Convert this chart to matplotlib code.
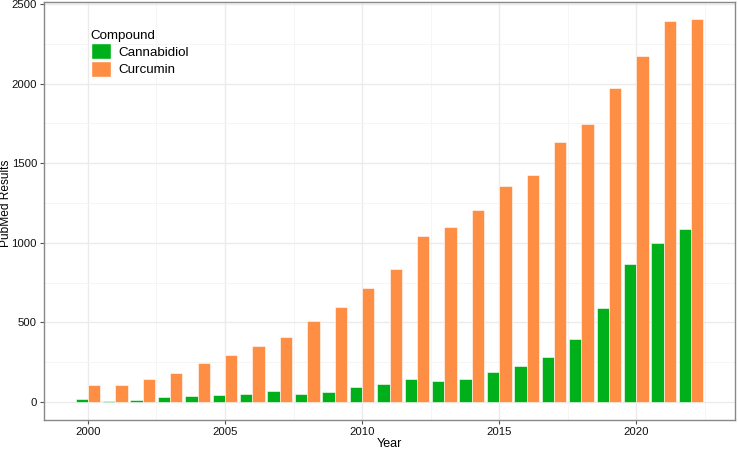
import matplotlib
matplotlib.use("Agg")
import matplotlib.pyplot as plt
import numpy as np
from matplotlib.patches import Patch
from matplotlib.ticker import MultipleLocator

plt.rcParams['font.family'] = ['Liberation Sans', 'DejaVu Sans']

years = list(range(2000, 2023))
cannabidiol = [19, 8, 13, 31, 40, 44, 50, 71, 50, 63, 92, 113, 144, 134, 144,
               186, 224, 281, 396, 588, 869, 1001, 1085]
curcumin = [107, 107, 144, 180, 247, 295, 354, 410, 509, 595, 713, 836, 1045,
            1099, 1204, 1359, 1425, 1635, 1745, 1970, 2170, 2395, 2405]
compounds = ["Cannabidiol", "Curcumin"]
colors = {"Cannabidiol": "#00B01A", "Curcumin": "#FF8E45"}

fig = plt.figure(figsize=(7.38, 4.49), dpi=100)
ax = fig.add_axes([44 / 738, 1 - 420 / 449, (735 - 44) / 738, (420 - 2) / 449])

x = np.array(years)
w = 0.45
ax.bar(x - w / 2, cannabidiol, width=w, color=colors["Cannabidiol"],
       edgecolor="white", linewidth=0.4, zorder=3)
ax.bar(x + w / 2, curcumin, width=w, color=colors["Curcumin"],
       edgecolor="white", linewidth=0.4, zorder=3)

ax.set_xlim(1998.4, 2023.6)
ax.set_ylim(-113, 2512)
ax.xaxis.set_major_locator(MultipleLocator(5))
ax.xaxis.set_minor_locator(MultipleLocator(2.5))
ax.yaxis.set_major_locator(MultipleLocator(500))
ax.yaxis.set_minor_locator(MultipleLocator(250))

ax.grid(which="major", color="#EBEBEB", linewidth=1.0, zorder=0)
ax.grid(which="minor", color="#F4F4F4", linewidth=0.6, zorder=0)
ax.set_axisbelow(True)
for s in ax.spines.values():
    s.set_color("#888888")
    s.set_linewidth(1.0)
ax.tick_params(which="major", length=3, color="#555555", labelsize=8.2,
               labelcolor="#111111", pad=2)
ax.tick_params(which="minor", length=0)

ax.set_xlabel("Year", fontsize=9)
ax.xaxis.set_label_coords(0.5, -0.043)
ax.set_ylabel("PubMed Results", fontsize=8.6)
ax.yaxis.set_label_coords(-0.046, 0.518)

handles = [Patch(facecolor=colors[c], edgecolor="white", label=c) for c in compounds]
leg = ax.legend(handles=handles, title="Compound", loc="upper left",
                bbox_to_anchor=(0.05, 0.962), frameon=False, fontsize=9.6,
                title_fontsize=9.6, handlelength=1.5, handleheight=1.5,
                handletextpad=0.6, labelspacing=0.1)
leg._legend_box.align = "left"

fig.savefig("out.png", dpi=100)
